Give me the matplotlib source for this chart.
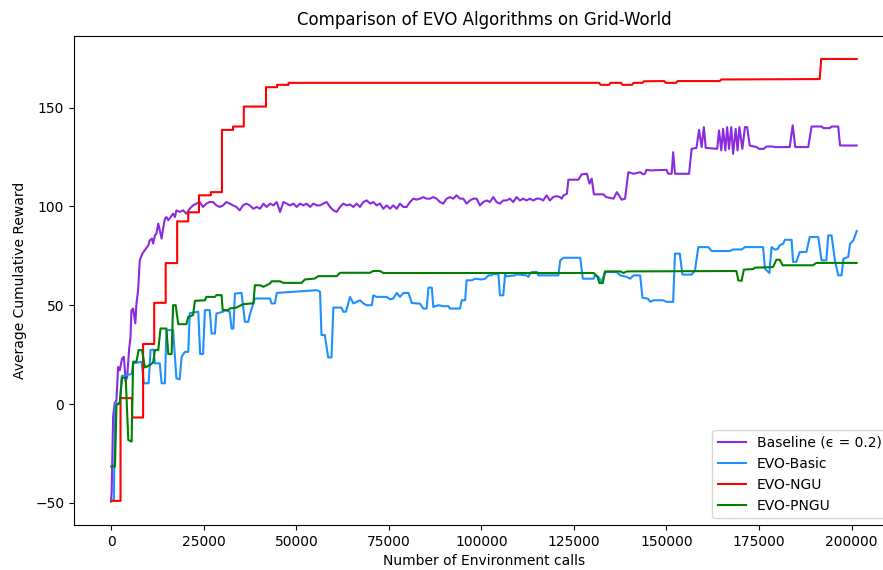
import numpy as np
import matplotlib
matplotlib.use("Agg")
import matplotlib.pyplot as plt

# x values in thousands of environment calls
base_x = [-0.1, 0.1, 0.5, 0.9, 1.4, 1.85, 2.3, 2.9, 3.4, 3.9, 4.3, 4.8, 5.2, 5.45, 5.9, 6.5, 6.8, 7.25, 7.7, 8.4,
          9.05, 10, 10.4, 11, 11.3, 11.8, 12.2, 12.7, 13.1, 13.6, 14, 14.5, 14.9, 15.4, 16.7, 17.2, 17.6, 18.5, 19.4, 20.3,
          21.2, 22.1, 23, 23.9, 24.8, 25.7, 26.6, 27.5, 28.4, 29.3, 30.2, 31.1, 32, 32.9, 33.8, 34.7, 35.6, 36.5, 37.4, 38.4,
          39.3, 40.2, 41.1, 42, 42.9, 43.8, 44.7, 45.6, 46.5, 47.4, 48.3, 49.2, 50.1, 51, 51.9, 52.8, 53.7, 54.6, 55.5, 56.4,
          57.3, 58.2, 59.1, 60, 60.9, 61.8, 62.7, 63.6, 64.5, 65.4, 66.3, 67.2, 68.1, 69, 70, 70.8, 71.7, 72.6, 73.5, 74.4,
          75.3, 76.2, 77.1, 78, 78.9, 79.8, 80.7, 81.6, 82.5, 83.4, 84.3, 85.2, 86.1, 87, 87.9, 88.8, 89.7, 90.6, 91.5, 92.4,
          93.3, 94.2, 95.1, 96, 96.9, 97.8, 98.7, 99.6, 100.5, 101.4, 102.3, 103.2, 104.1, 105, 105.9, 106.8, 107.7, 108.6, 109.5, 110.4,
          111.3, 112.2, 113.1, 114, 114.9, 115.8, 116.7, 117.6, 118.5, 119.4, 120.3, 121.2, 121.7, 122.2, 123.1, 123.5, 126.2, 127.1, 128.5, 129.2,
          129.8, 130.4, 133, 133.7, 135.7, 136.6, 137.9, 138.8, 139.7, 141.1, 142, 142.9, 143.8, 144.2, 144.6, 145.6, 150, 150.5, 151.4, 151.8,
          152.3, 156.1, 156.8, 158.1, 158.8, 159.5, 160.1, 160.6, 163.7, 164.2, 164.8, 165.3, 165.9, 166.4, 166.9, 167.5, 168, 168.7, 169.2, 169.7,
          170.5, 171.2, 171.8, 172.5, 174.3, 175.1, 176.3, 177, 178.4, 179.3, 183.3, 184.1, 184.8, 188.3, 189.2, 191.9, 192.4, 194.1, 194.6, 196.4,
          196.9, 201.4]
base_y = [-49.3, -45, -6.4, 0.3, 2, 18.8, 17.1, 23, 23.9, 11.5, 13.8, 27.3, 34, 47.5, 48.3, 40.8, 50.9, 57.6, 72.7, 76.1,
          77.8, 80.3, 82.8, 83.7, 81.2, 85.4, 86.2, 91.3, 87.9, 83.7, 88.7, 93.8, 94.6, 93, 96.3, 94.6, 98, 97.2, 98, 96.3,
          98.8, 100.5, 101.4, 102.2, 99.7, 101.4, 102.2, 102.2, 100.5, 99.7, 100.5, 102.2, 101.4, 100.5, 99.7, 98, 100.5, 101.4, 100.5, 98.8,
          99.7, 98.8, 101.4, 99.7, 101.4, 100.5, 102.2, 97.2, 102.2, 101.4, 100.5, 101.4, 99.7, 101.4, 100.5, 101.4, 99.7, 101.4, 100.5, 100.5,
          101.4, 102.2, 99.7, 98, 97.2, 99.7, 101.4, 100.5, 101, 99.7, 101.4, 99.7, 102.2, 103, 101.4, 102.2, 100.5, 101.4, 98.8, 100.5,
          98.8, 100.5, 98.8, 101.4, 99.7, 99.7, 102.2, 103.9, 103.4, 103.9, 104.7, 103.9, 103.9, 104.7, 103.9, 102.2, 101.4, 103.9, 104.7, 103.9,
          105.6, 103.9, 103.9, 101.4, 103, 103.9, 103.9, 100.5, 102.2, 103, 102.2, 104.7, 102.2, 101.4, 103, 103, 103.9, 102.2, 104.7, 103,
          103.9, 103, 103.9, 103, 103.9, 103.9, 103, 105.6, 103, 104.7, 105.2, 104.7, 103.9, 105.6, 106.4, 113.5, 113.5, 116.2, 116.5, 111.5,
          114, 106.1, 106.1, 104.7, 103.9, 107.2, 103.4, 103.9, 117.3, 116.5, 116.9, 117.3, 116.2, 116.5, 118.5, 118.2, 118.5, 116.5, 116.5, 127.4,
          116.5, 116.5, 129.1, 129.6, 138.7, 130, 140.1, 129.6, 129.1, 138.4, 128.3, 139.2, 128.3, 140.1, 129.1, 140.1, 126.6, 139.2, 128.3, 140.1,
          129.1, 140.1, 140.1, 130.8, 130, 129.1, 129.1, 130.3, 130.3, 130, 130, 141, 130, 130, 140.4, 140.4, 139.6, 139.6, 140.4, 140.4,
          130.8, 130.8]

basic_x = [0, 0.7, 1.05, 2.3, 2.85, 5.5, 5.9, 8.2, 8.8, 10.1, 10.6, 11.4, 11.8, 13.1, 13.6, 14.5, 14.9, 16.7, 17.6, 18.5,
           19, 19.9, 20.8, 21.2, 23.5, 24, 24.8, 25.3, 26.6, 27.1, 28, 28.4, 30.2, 30.7, 32, 32.5, 33, 33.4, 35.2, 36.1,
           37, 37.4, 38.4, 38.8, 42.9, 43.3, 44.2, 44.7, 55.5, 56.4, 56.8, 57.7, 58.6, 59.5, 60, 62.2, 62.7, 63.4, 64.5, 65.4,
           67.2, 68.1, 69, 70.4, 70.8, 71.7, 74.4, 75.3, 76.2, 77.1, 78, 78.9, 80.3, 81.2, 83.4, 84.3, 85.2, 85.7, 86.6, 87,
           88.4, 89.7, 91.1, 91.5, 94.2, 94.7, 95.6, 96, 97.4, 98.3, 100.1, 101, 101.9, 102.8, 103.2, 104.6, 105, 105.9, 106.4, 106.8,
           109.1, 109.5, 112.2, 112.7, 113.1, 113.6, 115, 115.4, 120.8, 121.3, 122.2, 126.7, 127.4, 130.3, 130.7, 131.6, 132.5, 133.4, 136.6, 137.5,
           139.3, 140.2, 141.1, 142.9, 143.5, 145, 145.6, 146.5, 149.1, 150, 151.8, 152.3, 153.6, 154.3, 156.8, 157.7, 158.6, 161.3, 162.2, 167.1,
           168, 170.3, 171.2, 176.1, 176.6, 177.8, 178.4, 179.3, 180.1, 180.6, 181.5, 182, 183.8, 184.2, 185.1, 186, 187.8, 188.7, 191, 191.9,
           193.2, 193.7, 194.6, 195.5, 196.4, 197.3, 197.8, 199.1, 199.6, 200.5, 201.4]
basic_y = [-48.5, -48.5, 0.4, 0.4, 14.2, 15.2, 20.6, 21.4, 10.5, 10.5, 27.3, 27.6, 20.6, 20.6, 10.5, 10.5, 37.4, 37.4, 13, 12.5,
           23.9, 26.4, 26.4, 46, 46.7, 25.3, 25.3, 47.5, 47.5, 35.7, 35.7, 45.8, 46.7, 47.5, 46.7, 38.2, 38.2, 55.9, 56.2, 41.6,
           41.6, 45, 50.9, 53.4, 53.4, 50.9, 50.9, 56.2, 57.6, 56.8, 34.9, 34.9, 23.6, 23.6, 48.8, 48.8, 46.7, 46.7, 54.2, 50.9,
           52.5, 50.9, 50, 50, 55, 54.2, 54.2, 53, 53.4, 56.2, 54.2, 56.2, 56.2, 51.1, 50.8, 48.3, 48.3, 58.9, 58.9, 49.1,
           50, 49.5, 49.5, 48.3, 48.3, 52.5, 52.5, 62.6, 62.6, 63.4, 63, 63.4, 65.1, 65.1, 66, 65.6, 55, 55, 65.6, 64.6,
           65.1, 65.6, 65.1, 64.3, 65.9, 66.8, 66.8, 65.1, 65.1, 72.7, 74, 74, 63.4, 63.4, 65.1, 64.3, 61.8, 66.8, 66.8, 65.1,
           64.3, 63.4, 65.1, 65.1, 53.8, 53.3, 51.7, 52.5, 52.5, 51.7, 51.7, 76.1, 76.1, 65.5, 65.5, 67.6, 79.4, 79.4, 77.4, 77.4,
           78.2, 78.2, 79.4, 79.4, 68.5, 66.3, 79.4, 78.1, 78.5, 80.3, 81.1, 83.1, 83.1, 71.9, 71.9, 76.9, 76.9, 84.5, 84.5, 72.7,
           72.7, 85.3, 85.3, 72.7, 65.1, 65.1, 73.5, 74.4, 81.1, 82.8, 87.5]

ngu_x = [0, 2.5, 2.5, 5.6, 5.6, 8.6, 8.6, 11.6, 11.6, 14.7, 14.7, 17.8, 17.8, 20.8, 20.8, 23.7, 23.7, 26.9, 26.9, 29.9,
         29.9, 32.9, 32.9, 35.8, 35.8, 41.8, 41.8, 44.8, 44.8, 47.9, 47.9, 131.8, 132.2, 134.5, 134.9, 137.7, 138.1, 140.7, 141.1, 143.5,
         143.9, 149.4, 149.8, 152.6, 153.0, 164.4, 164.8, 191.4, 191.8, 201.4]
ngu_y = [-49, -49, 3, 3, -6.8, -6.8, 30.4, 30.4, 51.2, 51.2, 71.3, 71.3, 92.4, 92.4, 97, 97, 105.6, 105.6, 107.2, 107.2,
         138.7, 138.7, 140.4, 140.4, 150.5, 150.5, 160.3, 160.3, 161.5, 161.5, 162.5, 162.5, 161.5, 161.5, 162.5, 162.5, 161.5, 161.5, 162.5, 162.5,
         163.3, 163.4, 162.5, 162.5, 163.4, 163.4, 164.2, 164.4, 174.6, 174.6]

pngu_x = [0, 1, 1.4, 2.3, 2.9, 3.9, 4.6, 5.5, 5.9, 6.8, 7.4, 8.3, 9.1, 10.4, 11.3, 11.8, 12.7, 13.3, 14.9, 15.4,
          16.3, 16.7, 17.4, 18.1, 20.3, 20.8, 22.1, 22.6, 25.3, 25.7, 28, 28.4, 29.8, 30.1, 31.6, 32, 33.8, 35.6, 37.9, 38.4,
          38.8, 40.2, 41.1, 42.9, 43.3, 45.6, 46.5, 51.4, 52.3, 55, 55.9, 60.9, 61.8, 69.9, 70.8, 72.6, 73.5, 130.3, 131.3, 131.9,
          132.8, 133.4, 137.5, 138.4, 139.3, 168.9, 169.4, 170.3, 170.9, 173.4, 173.9, 178.8, 179.7, 180.6, 181.4, 189.6, 190.5, 201.4]
pngu_y = [-31.6, -31.6, -0.5, 0.4, 13.3, 13.3, -18.2, -19, 21.4, 21.4, 27.3, 27.3, 18.5, 19.7, 21, 27.3, 27.3, 38.2, 38.2, 25.3,
          25.3, 50, 50, 40.4, 40.4, 44.1, 45, 52.2, 52.5, 54.2, 54.2, 55.1, 55.1, 47.5, 47.5, 48.3, 48.8, 50.5, 50.9, 50.9,
          60.1, 60.1, 59.3, 61, 62.1, 62.1, 61.3, 61.3, 63, 63.5, 64.7, 64.7, 66.4, 66.4, 67.3, 67.3, 66.3, 66.3, 64.6, 61.2,
          61.2, 67.1, 67.1, 66.3, 67.1, 67.3, 62.6, 62.3, 68, 68.3, 69, 69.3, 73, 73, 70.2, 70.2, 71.4, 71.4]

labels = ["Baseline (\u03f5 = 0.2)", "EVO-Basic", "EVO-NGU", "EVO-PNGU"]
colors = ["blueviolet", "dodgerblue", "red", "green"]

fig = plt.figure(figsize=(8.83, 5.70), dpi=100)
ax = fig.add_axes([74 / 883, 45 / 570, 820 / 883, 489 / 570])

series = [(base_x, base_y), (basic_x, basic_y), (ngu_x, ngu_y), (pngu_x, pngu_y)]
for (xs, ys), lab, col in zip(series, labels, colors):
    ax.plot(np.array(xs) * 1000, ys, color=col, label=lab, linewidth=1.5)

ax.set_xlim(-10070, 211470)
ax.set_ylim(-61.2, 186.2)
ax.set_xticks([0, 25000, 50000, 75000, 100000, 125000, 150000, 175000, 200000])
ax.set_yticks([-50, 0, 50, 100, 150])
ax.set_title("Comparison of EVO Algorithms on Grid-World", pad=8)
ax.set_xlabel("Number of Environment calls")
ax.set_ylabel("Average Cumulative Reward", labelpad=6)
ax.legend(loc="lower right")

fig.savefig("out.png", dpi=100)
